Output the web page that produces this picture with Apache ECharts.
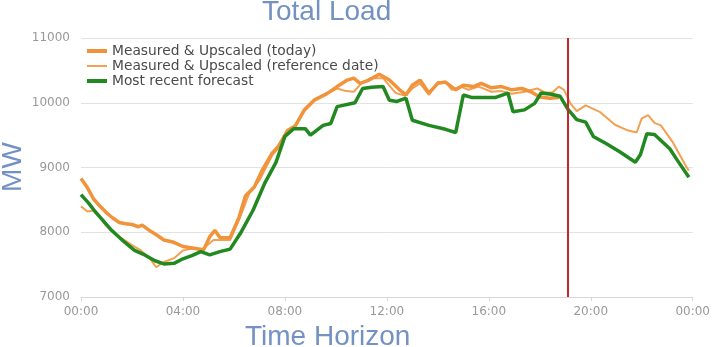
<!DOCTYPE html>
<html>
<head>
<meta charset="utf-8">
<script src="https://cdn.jsdelivr.net/npm/echarts@6/dist/echarts.min.js"></script>
<style>
  html, body {margin: 0; padding: 0; background: #fff;}
  #chart {width: 713px; height: 347px;}
</style>
</head>
<body>
<div id="chart"></div>
<script>
// Total load: measured vs reference vs forecast, hours of the day on x.

const HOUR_TICKS = ["00:00", "04:00", "08:00", "12:00", "16:00", "20:00", "00:00"]

const SERIES_NAMES = [
  "Measured & Upscaled (today)",
  "Measured & Upscaled (reference date)",
  "Most recent forecast",
]

// [hour, MW]
const todayLoad = [
  [0, 8830], [0.25, 8690], [0.5, 8510], [0.75, 8400], [1, 8300], [1.25, 8220], [1.5, 8150],
  [1.75, 8130], [2, 8120], [2.25, 8085], [2.4, 8110], [2.75, 8010], [3, 7950], [3.25, 7880],
  [3.6, 7850], [4, 7780], [4.5, 7750], [4.8, 7720], [5.05, 7930], [5.25, 8030], [5.45, 7920],
  [5.85, 7915], [6.2, 8230], [6.45, 8560], [6.8, 8700], [7.1, 8950], [7.5, 9220], [7.75, 9330],
  [8.1, 9570], [8.4, 9640], [8.75, 9880], [9.15, 10040], [9.65, 10140], [10.05, 10250],
  [10.45, 10350], [10.7, 10380], [10.95, 10300], [11.3, 10350], [11.7, 10440], [12.1, 10350],
  [12.5, 10200], [12.75, 10120], [13, 10270], [13.3, 10350], [13.65, 10150], [14, 10300],
  [14.3, 10320], [14.7, 10200], [15, 10270], [15.4, 10250], [15.7, 10300], [16.1, 10230],
  [16.5, 10250], [16.9, 10200], [17.3, 10220], [17.65, 10170], [18, 10090], [18.4, 10070],
  [18.75, 10080],
]

const referenceLoad = [
  [0, 8400], [0.25, 8320], [0.55, 8340], [0.9, 8140], [1.3, 7980], [1.7, 7880], [2, 7800],
  [2.35, 7720], [2.75, 7570], [2.95, 7460], [3.25, 7540], [3.65, 7600], [4, 7720], [4.4, 7750],
  [4.8, 7750], [5.2, 7880], [5.5, 7880], [5.85, 7880], [6.2, 8190], [6.6, 8600], [7, 8800],
  [7.5, 9190], [7.75, 9300], [8.1, 9560], [8.4, 9620], [8.75, 9900], [9.15, 10050], [9.6, 10130],
  [10.05, 10220], [10.4, 10180], [10.7, 10170], [11, 10300], [11.35, 10380], [11.85, 10380],
  [12.35, 10150], [12.7, 10110], [13, 10220], [13.3, 10300], [13.65, 10120], [14, 10320],
  [14.3, 10320], [14.55, 10200], [14.9, 10250], [15.2, 10200], [15.6, 10250], [16.1, 10170],
  [16.5, 10180], [16.9, 10140], [17.4, 10170], [17.9, 10220], [18.2, 10160], [18.5, 10160],
  [18.75, 10250], [18.95, 10200], [19.2, 9990], [19.45, 9870], [19.8, 9960], [20.35, 9860],
  [20.95, 9660], [21.4, 9580], [21.8, 9540], [22, 9760], [22.25, 9810], [22.5, 9690],
  [22.75, 9650], [23.2, 9400], [23.75, 9010], [23.85, 8950],
]

const forecastLoad = [
  [0, 8580], [0.3, 8450], [0.55, 8320], [0.8, 8210], [1.2, 8030], [1.7, 7850], [2.1, 7720],
  [2.5, 7650], [2.9, 7560], [3.25, 7510], [3.65, 7520], [4, 7590], [4.35, 7640], [4.7, 7700],
  [5.05, 7650], [5.45, 7700], [5.85, 7740], [6.25, 7980], [6.75, 8340], [7.2, 8750], [7.65, 9080],
  [8, 9480], [8.35, 9600], [8.8, 9600], [9, 9500], [9.5, 9650], [9.8, 9680], [10.05, 9940],
  [10.75, 10000], [11.05, 10220], [11.4, 10240], [11.85, 10250], [12.1, 10040], [12.4, 10020],
  [12.75, 10070], [13, 9730], [13.65, 9650], [14.3, 9590], [14.7, 9540], [15, 10120],
  [15.35, 10080], [16.25, 10080], [16.75, 10150], [16.95, 9860], [17.4, 9890], [17.8, 9990],
  [18.05, 10150], [18.45, 10130], [18.8, 10100], [19.1, 9900], [19.45, 9740], [19.8, 9700],
  [20.1, 9480], [20.6, 9370], [21.15, 9240], [21.75, 9080], [21.95, 9200], [22.2, 9520],
  [22.5, 9510], [23.1, 9290], [23.4, 9110], [23.85, 8850],
]

const NOW_HOUR = 19.1

const TITLE_COLOR = "#7391c3"
const FONT = "DejaVu Sans"

// plain line icons for the legend (thick / thin)
const THICK_ICON = "path://M0,0H20V4H0Z"
const THIN_ICON = "path://M0,0H20V2H0Z"

const chart = echarts.init(document.getElementById("chart"), null, {renderer: "canvas"})

chart.setOption({
  animation: false,
  backgroundColor: "#fff",
  title: [
    {
      text: "Total Load",
      left: 257,
      top: -7,
      textStyle: {color: TITLE_COLOR, fontSize: 28, fontWeight: "normal", fontFamily: "Liberation Sans"},
    },
    {
      text: "Time Horizon",
      left: 240,
      top: 318,
      textStyle: {color: TITLE_COLOR, fontSize: 28, fontWeight: "normal", fontFamily: "Liberation Sans"},
    },
  ],
  graphic: [
    {
      type: "text",
      x: 13,
      y: 167,
      rotation: Math.PI / 2,
      style: {
        text: "MW",
        fill: TITLE_COLOR,
        fontSize: 28,
        fontFamily: "Liberation Sans",
        align: "center",
        verticalAlign: "middle",
      },
    },
  ],
  grid: {left: 81, right: 13, top: 38, bottom: 50},
  legend: {
    orient: "vertical",
    left: 82,
    top: 39,
    itemGap: 1,
    itemWidth: 20,
    itemHeight: 13,
    symbolKeepAspect: true,
    textStyle: {color: "#4a4a4a", fontSize: 13.8, fontFamily: FONT},
    data: [
      {name: SERIES_NAMES[0], icon: THICK_ICON},
      {name: SERIES_NAMES[1], icon: THIN_ICON},
      {name: SERIES_NAMES[2], icon: THICK_ICON},
    ],
  },
  xAxis: {
    type: "value",
    min: 0,
    max: 24,
    interval: 4,
    axisLabel: {
      color: "#999",
      fontSize: 12,
      fontFamily: FONT,
      margin: 9,
      formatter: v => HOUR_TICKS[v / 4],
    },
    axisLine: {lineStyle: {color: "#d8d8d8"}},
    axisTick: {show: true, length: 4, lineStyle: {color: "#d8d8d8"}},
    splitLine: {show: false},
  },
  yAxis: {
    type: "value",
    min: 7000,
    max: 11000,
    interval: 1000,
    axisLabel: {color: "#999", fontSize: 12, fontFamily: FONT, margin: 11, formatter: v => String(v)},
    axisLine: {show: false},
    axisTick: {show: false},
    splitLine: {lineStyle: {color: "#e2e2e2"}},
  },
  series: [
    {
      name: SERIES_NAMES[0],
      type: "line",
      data: todayLoad,
      symbol: "none",
      z: 3,
      lineStyle: {color: "#f0933a", width: 3.5},
      itemStyle: {color: "#f0933a"},
      markLine: {
        silent: true,
        symbol: "none",
        label: {show: false},
        lineStyle: {color: "#c8262c", width: 2, type: "solid"},
        data: [{xAxis: NOW_HOUR}],
      },
    },
    {
      name: SERIES_NAMES[1],
      type: "line",
      data: referenceLoad,
      symbol: "none",
      z: 2,
      lineStyle: {color: "#f2a052", width: 2},
      itemStyle: {color: "#f2a052"},
    },
    {
      name: SERIES_NAMES[2],
      type: "line",
      data: forecastLoad,
      symbol: "none",
      z: 4,
      lineStyle: {color: "#21891f", width: 3.5},
      itemStyle: {color: "#21891f"},
    },
  ],
})
</script>
</body>
</html>
